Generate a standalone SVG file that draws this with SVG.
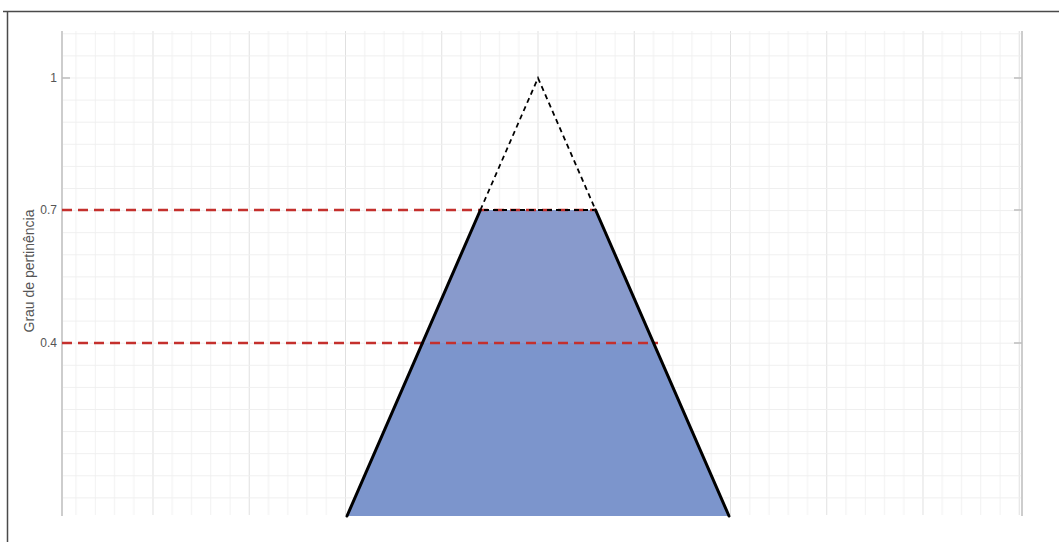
<svg xmlns="http://www.w3.org/2000/svg" width="1059" height="542" viewBox="0 0 1059 542">
<style>
.tick{font-family:"Liberation Sans",Arial,sans-serif;font-size:12px;fill:#555;}
.ylab{font-family:"Liberation Sans",Arial,sans-serif;font-size:14px;fill:#555;}
.axis{stroke:#bdbdbd;stroke-width:1.5;fill:none;}
.red{stroke:#c4302d;stroke-width:2.5;stroke-dasharray:10 6;fill:none;}
.blk{stroke:#000;stroke-width:3;fill:none;stroke-linecap:round;stroke-linejoin:round;}
.tri{stroke:#000;stroke-width:1.8;stroke-dasharray:5 4;fill:none;}
</style>
<defs>
<pattern id="grid" patternUnits="userSpaceOnUse" x="152.5" y="77.5" width="96.25" height="22.1">
<rect x="0" y="0" width="1" height="22.1" fill="#e0e0e0"/>
<rect x="19.25" y="0" width="1" height="22.1" fill="#f1f1f1"/>
<rect x="38.5" y="0" width="1" height="22.1" fill="#f1f1f1"/>
<rect x="57.75" y="0" width="1" height="22.1" fill="#f1f1f1"/>
<rect x="77" y="0" width="1" height="22.1" fill="#f1f1f1"/>
<rect x="0" y="0" width="96.25" height="1" fill="#efefef"/>
</pattern>
</defs>
<rect width="1059" height="542" fill="#fff"/>
<g id="frame">
<path d="M3 11.5H1059M7.5 11.5V542" stroke="#4a4a4a" stroke-width="1.5" fill="none"/>
</g>
<g id="plot">
<rect x="63" y="31" width="958" height="484" fill="url(#grid)"/>
<path class="axis" d="M62 31V516M1022 31V516"/>
<path class="axis" d="M62 78H70M62 210H70M62 343H70M1014 78H1022M1014 210H1022M1014 343H1022"/>
<text class="tick" x="57" y="82" text-anchor="end">1</text>
<text class="tick" x="57" y="214" text-anchor="end">0.7</text>
<text class="tick" x="57" y="347" text-anchor="end">0.4</text>
<text class="ylab" transform="translate(34 271) rotate(-90)" text-anchor="middle">Grau de pertinência</text>
</g>
<g id="area">
<polygon points="480.4,210 595.6,210 653.6,343 422.4,343" fill="#889acc"/>
<polygon points="422.4,343 653.6,343 729,516 347,516" fill="#7c95cc"/>
</g>
<g id="connectors">
<path class="tri" d="M480.4 210L538 78L595.6 210"/>
<path class="red" d="M62 210H596"/>
<path class="red" d="M62 343H658"/>
<path class="tri" d="M484 210H594" stroke-width="2.5"/>
<path class="blk" d="M347 516L480.4 210M595.6 210L729 516"/>
</g>
</svg>
